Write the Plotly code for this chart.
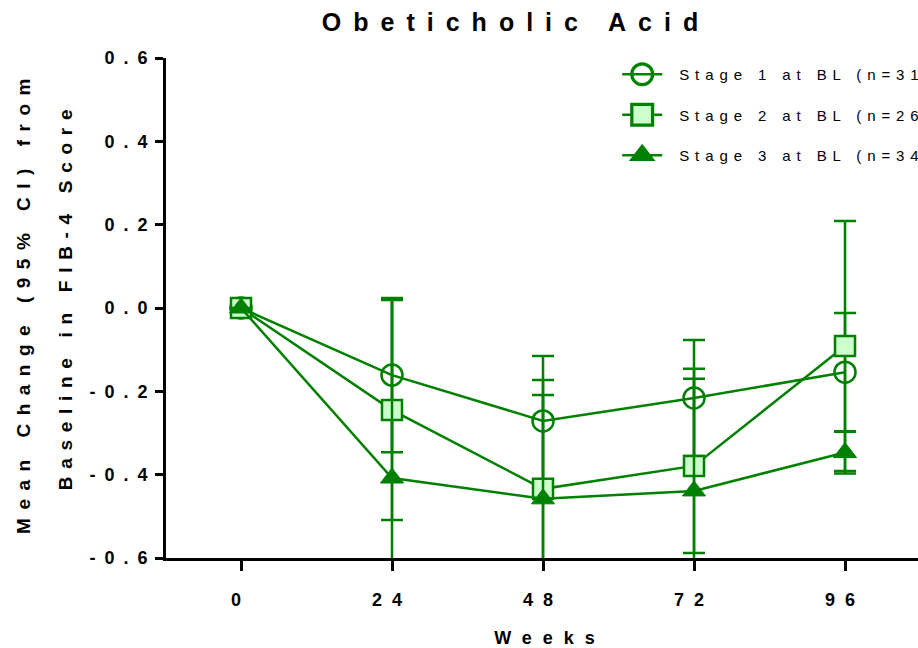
import plotly.graph_objects as go

weeks = [0, 24, 48, 72, 96]
names = ["Stage 1 at BL (n=31)", "Stage 2 at BL (n=26)", "Stage 3 at BL (n=34)"]
stage1_mean = [0, -0.161, -0.271, -0.216, -0.154]
stage1_ci = [None, 0.185, 0.156, 0.139, 0.142]
stage2_mean = [0, -0.245, -0.434, -0.379, -0.091]
stage2_ci = [None, 0.264, 0.261, 0.209, 0.300]
stage3_mean = [0, -0.408, -0.458, -0.439, -0.347]
stage3_ci = [None, 0.430, 0.249, 0.293, 0.050]
y_ticks = [-0.6, -0.4, -0.2, 0.0, 0.2, 0.4, 0.6]
y_ticktext = ["-0.6", "-0.4", "-0.2", "0.0", "0.2", "0.4", "0.6"]

GREEN = "#008000"
LIGHT = "#ccffcc"
FONT = "Arial, Liberation Sans, sans-serif"

series = [
    (names[0], stage1_mean, stage1_ci, dict(symbol="circle-open", size=21, color=GREEN, line=dict(color=GREEN, width=2.5))),
    (names[1], stage2_mean, stage2_ci, dict(symbol="square", size=20, color=LIGHT, line=dict(color=GREEN, width=2.5))),
    (names[2], stage3_mean, stage3_ci, dict(symbol="triangle-up", size=20, color=GREEN, line=dict(color=GREEN, width=1))),
]

fig = go.Figure()
for i, (nm, m, ci, mk) in enumerate(series):
    fig.add_trace(go.Scatter(
        x=weeks, y=m, name=nm, mode="lines+markers",
        line=dict(color=GREEN, width=2.5),
        marker=mk,
        legendgroup=f"g{i}",
        error_y=dict(type="data", array=ci, visible=True, color=GREEN, thickness=2.5, width=11),
    ))

fig.update_layout(
    width=918, height=648,
    margin=dict(l=166, r=0, t=58, b=90, autoexpand=False),
    plot_bgcolor="white", paper_bgcolor="white",
    font=dict(family=FONT, color="black"),
    title=dict(text="<b>Obeticholic Acid</b>", x=516/918, xref="container", xanchor="center",
               y=1-22/648, yref="container", yanchor="middle", font=dict(size=25, family=FONT, color="black")),
    showlegend=True,
    legend=dict(x=0.6, y=1.0, xanchor="left", yanchor="top", bgcolor="rgba(0,0,0,0)",
                font=dict(size=15, family=FONT, color="black"), tracegroupgap=18, itemwidth=40),
    xaxis=dict(range=[-11.92, 107.6], tickvals=weeks, ticktext=[str(w) for w in weeks],
               showgrid=False, zeroline=False, showline=True, linecolor="black", linewidth=2.5,
               ticks="outside", ticklen=10, tickwidth=2.5, tickcolor="black",
               tickfont=dict(size=18, family=FONT, color="black", weight="bold"), ticklabelstandoff=14,
               title=dict(text="Weeks", font=dict(size=18, family=FONT, color="black", weight="bold"), standoff=24)),
    yaxis=dict(range=[-0.6, 0.6], tickvals=y_ticks, ticktext=y_ticktext,
               showgrid=False, zeroline=False, showline=True, linecolor="black", linewidth=2.5,
               ticks="outside", ticklen=8, tickwidth=2.5, tickcolor="black",
               tickfont=dict(size=18, family=FONT, color="black", weight="bold"),
               title=dict(text="Mean Change (95% CI) from<br>Baseline in FIB-4 Score",
                          font=dict(size=19, family=FONT, color="black", weight="bold"), standoff=61)),
)

post = """
var gd = document.getElementById('{plot_id}');
function sp(){
  gd.querySelectorAll('.gtitle').forEach(function(e){e.style.letterSpacing='12px';});
  gd.querySelectorAll('.xtitle').forEach(function(e){e.style.letterSpacing='11px'; e.setAttribute('dx','8');});
  gd.querySelectorAll('.ytitle').forEach(function(e){
    e.style.letterSpacing='8.5px';
    var ts = e.querySelectorAll('tspan.line');
    if (ts.length > 1) {
      ts[0].setAttribute('dx', '6');
      ts[1].setAttribute('dy', '2.2em');
      ts[1].setAttribute('dx', '12');
      ts[1].style.letterSpacing = '7.7px';
    }
  });
  gd.querySelectorAll('.xtick text').forEach(function(e){e.style.letterSpacing='10px';});
  gd.querySelectorAll('.ytick text').forEach(function(e){e.style.letterSpacing='9px'; e.setAttribute('dx','5');});
  gd.querySelectorAll('.legendtext').forEach(function(e){e.style.letterSpacing='5.9px'; e.setAttribute('dx','12');});
  gd.querySelectorAll('.legend .legendpoints path.scatterpts').forEach(function(p){
    var t = p.getAttribute('transform') || '';
    if (t.indexOf('scale') < 0) { p.setAttribute('transform', t + ' scale(1.3)'); }
  });
  gd.querySelectorAll('.legend .scrollbox, .legend').forEach(function(e){e.removeAttribute('clip-path');});
}
sp();
gd.on('plotly_afterplot', sp);
"""
fig.write_html("out.html", post_script=post)
